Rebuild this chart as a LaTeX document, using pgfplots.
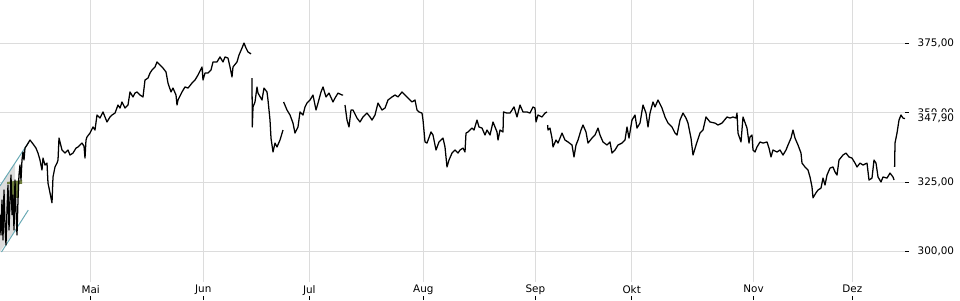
\documentclass[border=0pt]{standalone}
\usepackage{pgfplots}
\pgfplotsset{compat=1.18}
\usepackage{fontspec}
\setmainfont{DejaVu Sans}
\definecolor{gridc}{HTML}{DCDCDC}
\definecolor{tealc}{HTML}{6AAAB5}
\definecolor{olivec}{HTML}{6B7A3A}
\definecolor{shadec}{HTML}{DDDDDD}
\begin{document}
\begin{tikzpicture}
\begin{axis}[
  scale only axis, width=678.75pt, height=211.5pt,
  xmin=0, xmax=905, ymin=289.1, ymax=390.6,
  axis line style={draw=none},
  clip=false,
  unbounded coords=jump,
  xtick={90.7,203.3,309.3,423.3,535.3,631.7,753.5,852.3},
  xticklabels={Mai,Jun,Jul,Aug,Sep,Okt,Nov,Dez},
  ytick={300,325,350,375},
  yticklabels={{300,00},{325,00},{350,00},{375,00}},
  xtick pos=bottom, ytick pos=right, yticklabel pos=right,
  tick align=outside, major tick length=3pt,
  xmajorgrids, ymajorgrids,
  grid style={gridc, line width=0.75pt},
  ytick style={black, line width=0.6pt},
  xtick style={black, line width=0.6pt, yshift=-10.5pt},
  tick label style={font=\fontsize{7.8}{9}\selectfont, text=black},
  yticklabel style={xshift=3pt},
  xticklabel style={yshift=4.2pt},
]
% overlay shapes at the left
\addplot[draw=none, fill=shadec, forget plot] coordinates {(0,323.7) (15,331.9) (15,307.8) (0,300.0)} -- cycle;
\addplot[tealc, line width=0.75pt, forget plot] coordinates {(0,323.7) (28.3,339.2)};
\addplot[tealc, line width=0.75pt, forget plot] coordinates {(1.5,299.9) (28.3,315.0)};
\addplot[draw=none, fill=olivec, forget plot] coordinates {(10,325.1) (19,325.1) (19,319.4) (10,319.4)} -- cycle;
\addplot[draw=none, fill=olivec, forget plot] coordinates {(7,325.1) (22,325.8) (22,324.4) (7,324.4)} -- cycle;
% price series
\addplot[black, line width=0.95pt, line join=round] coordinates {
(0,313.3) (1,306.0) (2,318.6) (3,304.2) (4,322.2) (5,309.6) (6,302.4) (7,315.0)
(8,324.0) (9,307.8) (10,318.6) (11,327.6) (12,313.3) (13,320.4) (14,307.8) (15,325.8)
(16,315.0) (17,306.0) (18,318.6) (19,327.6) (20,331.2) (21,325.8) (22,333.0) (23,335.9)
(24,333.0) (25,337.3) (27,338.4) (30,340.2) (33,338.8) (36,337.3) (38,335.5) (40,333.0)
(42,329.4) (43,333.7) (45,331.2) (47,331.9) (48,324.7) (50,321.2) (52,317.6) (53,326.9)
(55,330.5) (57,331.9) (58,333.0) (59,340.9) (62,336.6) (65,335.5) (68,336.6) (70,334.8)
(73,335.5) (76,337.3) (78,337.7) (82,339.1) (84,338.0) (85,333.7) (86,340.2) (87,341.3)
(90,342.7) (93,344.9) (95,343.8) (97,349.2) (100,348.1) (103,350.3) (105,348.5) (107,346.7)
(110,348.5) (112,349.2) (115,349.9) (118,352.8) (120,351.7) (122,353.9) (125,351.7) (128,352.8)
(130,357.5) (133,355.7) (135,357.1) (137,357.5) (140,356.4) (143,355.7) (145,361.8) (148,362.5)
(150,364.3) (152,365.4) (155,366.5) (157,368.3) (160,367.2) (163,366.1) (166,364.7) (168,360.7)
(171,357.5) (173,358.9) (176,356.4) (177,352.8) (178,354.6) (182,357.5) (185,359.3) (188,358.9)
(192,360.7) (195,361.8) (198,363.6) (202,366.5) (203,361.8) (205,364.3) (208,364.3) (211,365.4)
(213,368.3) (217,368.3) (220,370.1) (223,368.3) (225,370.1) (228,369.7) (230,366.5) (232,362.9)
(233,366.5) (237,368.3) (239,370.8) (242,373.3) (244,375.1) (246,373.3) (248,371.9) (251,371.2)
(251.5,nan)
(252,362.5) (252.3,344.9) (253,352.1) (255,353.9) (257,359.3) (258,357.1) (262,354.6) (264,358.9)
(267,357.5) (268,354.6) (270,347.4) (271,340.9) (273,335.9) (275,339.1) (277,337.7) (280,340.2)
(283,343.8)
(283.3,nan)
(283.6,353.9) (287,351.0) (290,349.2) (293,346.3) (295,342.7) (298,344.9) (300,350.3) (303,349.2)
(305,352.1) (307,353.5) (310,354.6) (313,356.4) (316,351.0) (318,353.5) (321,357.5) (323,359.3)
(326,355.7) (329,357.1) (333,353.9) (335,355.3) (338,357.1) (342,356.4) (343,356.4)
(344,nan)
(345,352.8) (347,347.4) (349,344.9) (351,351.0) (353,351.0) (357,348.1) (360,346.7) (363,348.5)
(367,349.9) (370,348.5) (372,347.4) (375,349.2) (378,353.5) (382,351.0) (385,351.7) (388,354.6)
(392,355.7) (395,356.4) (398,355.7) (402,357.5) (405,356.4) (408,355.3) (412,353.9) (415,354.6)
(417,351.0) (419,350.3) (422,349.9) (423,347.4) (425,339.5) (427,339.1) (431,343.1) (433,342.0)
(436,336.6) (439,339.5) (443,340.9) (445,337.7) (447,330.5) (449,333.0) (452,335.5) (455,336.6)
(458,335.5) (460,336.6) (463,337.3) (465,335.9) (466,342.7) (468,343.1) (472,344.5) (474,343.8)
(477,347.4) (479,344.9) (482,344.5) (485,342.0) (487,343.8) (490,342.0) (493,346.7) (495,344.9)
(497,343.1) (498,340.2) (500,343.8) (503,343.1) (503.5,350.3) (507,349.9) (510,349.9) (514,352.1)
(517,348.5) (520,352.8) (523,350.3) (527,350.3) (530,349.9) (533,352.1) (535,351.7) (536,346.7)
(538,349.2) (542,348.5) (545,349.9) (547,350.3)
(547.3,nan)
(547.6,345.6) (548,343.8) (550,344.5) (552,340.9) (553,337.7) (556,340.2) (558,339.1) (562,342.7)
(565,340.2) (568,339.5) (572,338.4) (574,334.1) (576,338.4) (578,340.2) (581,343.8) (583,345.6)
(586,343.1) (588,339.1) (592,340.9) (595,342.0) (598,344.5) (600,342.0) (603,339.5) (607,338.4)
(610,339.5) (612,335.5) (615,336.6) (618,338.4) (622,339.1) (625,340.2) (627,344.9) (629,340.9)
(632,347.4) (635,349.2) (637,344.5) (640,346.3) (643,352.8) (646,349.9) (648,344.9) (650,349.9)
(653,353.9) (655,352.1) (658,354.6) (662,351.7) (665,348.5) (668,346.3) (672,344.9) (675,342.7)
(677,342.0) (680,347.4) (683,349.9) (686,348.1) (688,346.3) (691,340.9) (693,334.8) (697,339.5)
(700,342.7) (703,343.8) (706,348.5) (710,346.7) (715,346.3) (718,345.6) (722,346.3) (727,348.5)
(730,348.1) (733,348.5) (736,348.1) (737,349.9) (738,342.7) (741,339.5) (743,348.5) (747,344.5)
(749,339.1) (750,341.3) (752,342.0) (753,336.6) (755,335.9) (757,337.7) (760,339.5) (763,339.1)
(767,339.5) (769,337.3) (771,334.1) (773,336.6) (777,335.9) (780,336.6) (783,334.8) (786,336.6)
(788,338.4) (791,340.9) (793,343.8) (795,340.9) (798,338.4) (801,335.5) (802,331.9) (805,330.5)
(808,329.4) (810,326.9) (812,323.3) (813,319.4) (816,321.2) (818,322.2) (821,322.9) (823,326.5)
(825,324.0) (827,327.6) (830,330.1) (833,330.5) (835,328.7) (837,327.6) (839,333.0) (843,334.8)
(846,335.5) (849,334.1) (852,333.7) (855,331.9) (857,330.5) (860,331.9) (863,331.2) (867,331.9)
(869,325.8) (872,326.5) (874,333.0) (876,331.9) (878,326.9) (881,325.1) (883,326.9) (887,326.5)
(890,328.3) (893,326.9) (894,325.8)
(894.3,nan)
(894.6,330.5) (895,339.1) (897,342.7) (899,347.4) (901,349.2) (903,348.1) (905,347.9)
};
\coordinate (last) at (axis cs:905,347.9);
\end{axis}
\node[anchor=west, fill=white, inner xsep=1pt, inner ysep=1.5pt, xshift=8.3pt, font=\fontsize{7.8}{9}\selectfont] at (last) {347,90};
\pgfresetboundingbox
\useasboundingbox (0,-13.5pt) rectangle (720pt,211.5pt);
\end{tikzpicture}
\end{document}
